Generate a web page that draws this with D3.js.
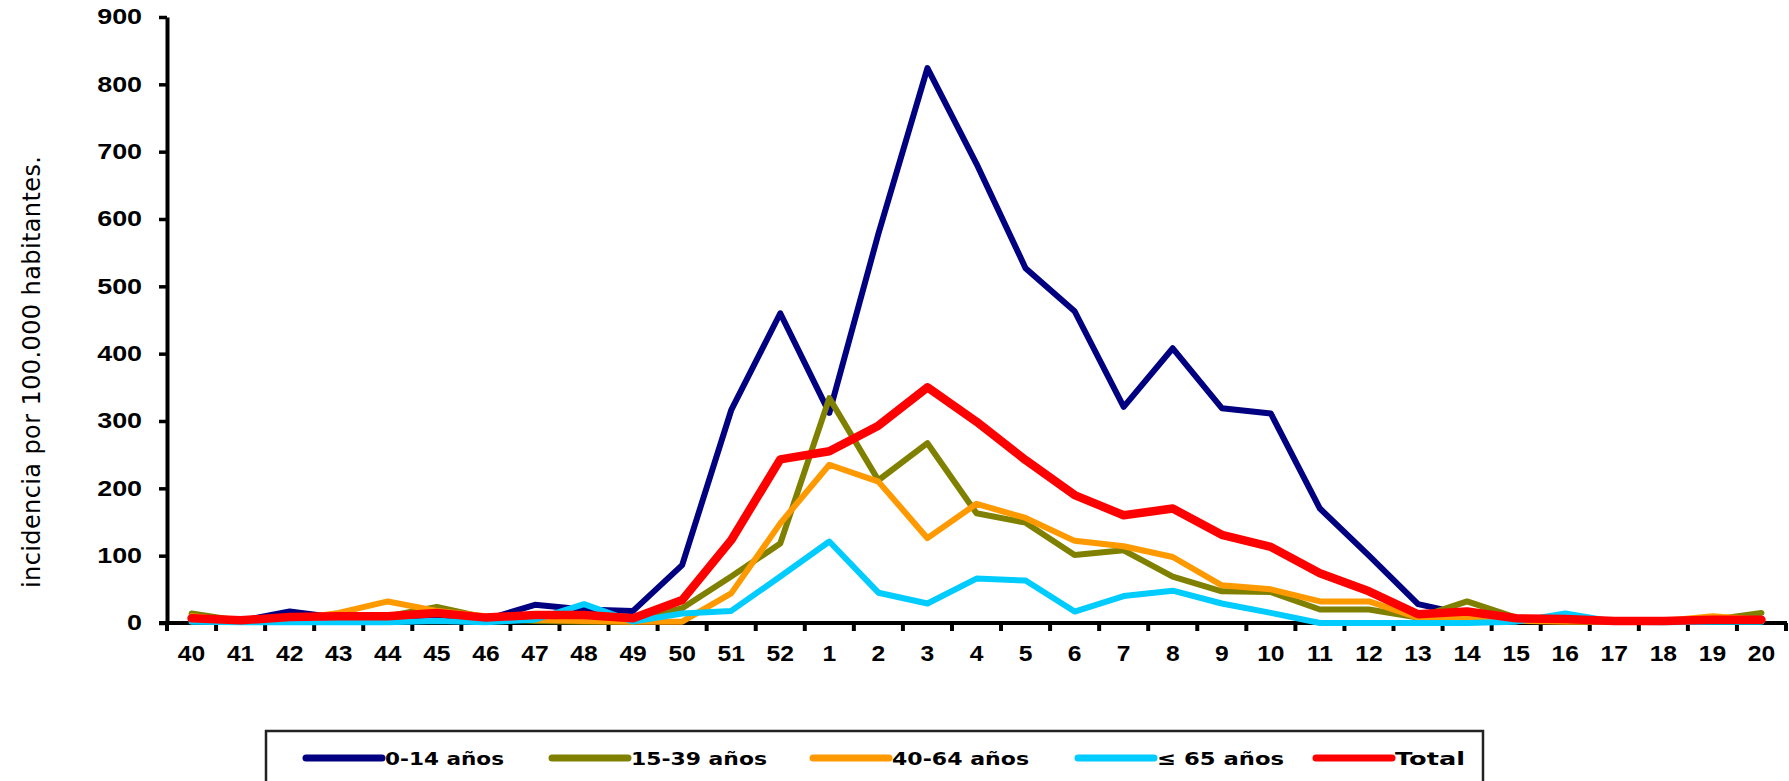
<!DOCTYPE html>
<html>
<head>
<meta charset="utf-8">
<script src="https://cdn.jsdelivr.net/npm/d3@7"></script>
<style>
  body { margin: 0; background: #fff; }
  svg { display: block; font-family: "DejaVu Sans", Verdana, sans-serif; }
</style>
</head>
<body>
<svg id="chart"></svg>
<script>
// Chart size
var width = 1789;
var height = 781;

// Weeks (season 40 -> 20)
var weeks = ["40","41","42","43","44","45","46","47","48","49","50","51","52",
             "1","2","3","4","5","6","7","8","9","10","11","12","13","14","15","16","17","18","19","20"];

// Incidence per 100.000
var age0_14  = [5,3,17,8,8,12,5,27,20,18,86,316,460,
                312,578,824,682,527,463,321,408,319,311,170,100,28,12,5,3,2,2,3,3];
var age15_39 = [14,3,5,8,10,24,8,3,2,2,22,69,118,
                334,212,267,163,149,101,108,69,47,46,20,20,8,32,8,5,2,2,5,15];
var age40_64 = [10,3,5,15,32,18,10,5,3,2,2,44,148,
                235,210,126,177,156,122,114,98,56,50,32,32,8,8,3,2,2,3,10,5];
var age65    = [2,1,1,1,1,3,1,5,28,2,14,18,69,
                121,45,29,66,63,17,40,48,29,15,0,0,0,0,2,14,2,1,2,2];
var total    = [7,4,9,10,10,15,8,12,12,7,34,123,243,
                255,293,350,299,242,190,160,170,131,113,74,47,13,17,7,6,3,3,5,5];

var yTicks = [0,100,200,300,400,500,600,700,800,900];

var seriesNames = ["0-14 años", "15-39 años", "40-64 años", "\u2264 65 años", "Total"];
var seriesColors = ["#000080", "#808000", "#ff9900", "#00ccff", "#ff0000"];
var seriesValues = [age0_14, age15_39, age40_64, age65, total];

var svg = d3.select("#chart")
    .attr("width", width)
    .attr("height", height);

svg.append("rect").attr("width", width).attr("height", height).attr("fill", "#fff");

// Scales
var x = d3.scaleBand().domain(weeks).range([167, 1786]);
var y = d3.scaleLinear().domain([0, 900]).range([623, 17]);

// Y axis
var yAxis = svg.append("g")
    .attr("transform", "translate(167,0)")
    .call(d3.axisLeft(y).tickValues(yTicks).tickSize(8).tickSizeOuter(0));
yAxis.select(".domain").attr("stroke-width", 4);
yAxis.selectAll(".tick line").attr("stroke-width", 3.5);
yAxis.selectAll(".tick text")
    .attr("x", -20)
    .attr("transform", "scale(1.25,1)")
    .style("font-size", "21.5px")
    .style("font-weight", "bold")
    .attr("fill", "#000");

// X axis labels
var xAxis = svg.append("g")
    .attr("transform", "translate(0,623)")
    .call(d3.axisBottom(x).tickSize(0).tickPadding(22));
xAxis.select(".domain").remove();
xAxis.selectAll(".tick text")
    .attr("transform", "scale(1.12,1)")
    .style("font-size", "22px")
    .style("font-weight", "bold")
    .attr("fill", "#000");

// X axis line and tick marks between weeks
svg.append("line")
    .attr("x1", 159).attr("x2", x.range()[1] + 1)
    .attr("y1", y(0)).attr("y2", y(0))
    .attr("stroke", "#000").attr("stroke-width", 4);

svg.append("g").selectAll("line")
    .data(d3.range(weeks.length + 1))
    .enter().append("line")
      .attr("x1", d => x.range()[0] + d * x.step())
      .attr("x2", d => x.range()[0] + d * x.step())
      .attr("y1", y(0))
      .attr("y2", y(0) + 8)
      .attr("stroke", "#000")
      .attr("stroke-width", 4);

// Y axis title
svg.append("text")
    .attr("transform", "translate(40,372) rotate(-90)")
    .attr("text-anchor", "middle")
    .attr("textLength", 432)
    .style("font-size", "24px")
    .attr("fill", "#000")
    .text("incidencia por 100.000  habitantes.");

// Lines
var line = d3.line()
    .x((d, i) => x(weeks[i]) + x.bandwidth() / 2)
    .y(d => y(d));

var lineWidths = [6, 6, 6, 6, 8.5];

svg.append("g").selectAll("path")
    .data(seriesValues)
    .enter().append("path")
      .attr("d", line)
      .attr("fill", "none")
      .attr("stroke", (d, i) => seriesColors[i])
      .attr("stroke-width", (d, i) => lineWidths[i])
      .attr("stroke-linejoin", "round")
      .attr("stroke-linecap", "round");

// Legend
var legend = svg.append("g");
legend.append("rect")
    .attr("x", 266).attr("y", 731)
    .attr("width", 1217).attr("height", 70)
    .attr("fill", "#fff")
    .attr("stroke", "#222")
    .attr("stroke-width", 2.5);

var legendX = [306, 552, 813, 1078, 1316];
var legendTextW = [119, 136, 137, 127, 70];

var item = legend.selectAll(".item")
    .data(seriesNames)
    .enter().append("g")
      .attr("class", "item")
      .attr("transform", (d, i) => "translate(" + legendX[i] + ",758)");

item.append("line")
    .attr("x1", 0).attr("x2", 76)
    .attr("stroke", (d, i) => seriesColors[i])
    .attr("stroke-width", 7)
    .attr("stroke-linecap", "round");

item.append("text")
    .attr("x", 79)
    .attr("dy", "0.36em")
    .attr("textLength", (d, i) => legendTextW[i])
    .attr("lengthAdjust", "spacingAndGlyphs")
    .style("font-size", "18.5px")
    .style("font-weight", "bold")
    .attr("fill", "#000")
    .text(d => d);
</script>
</body>
</html>
